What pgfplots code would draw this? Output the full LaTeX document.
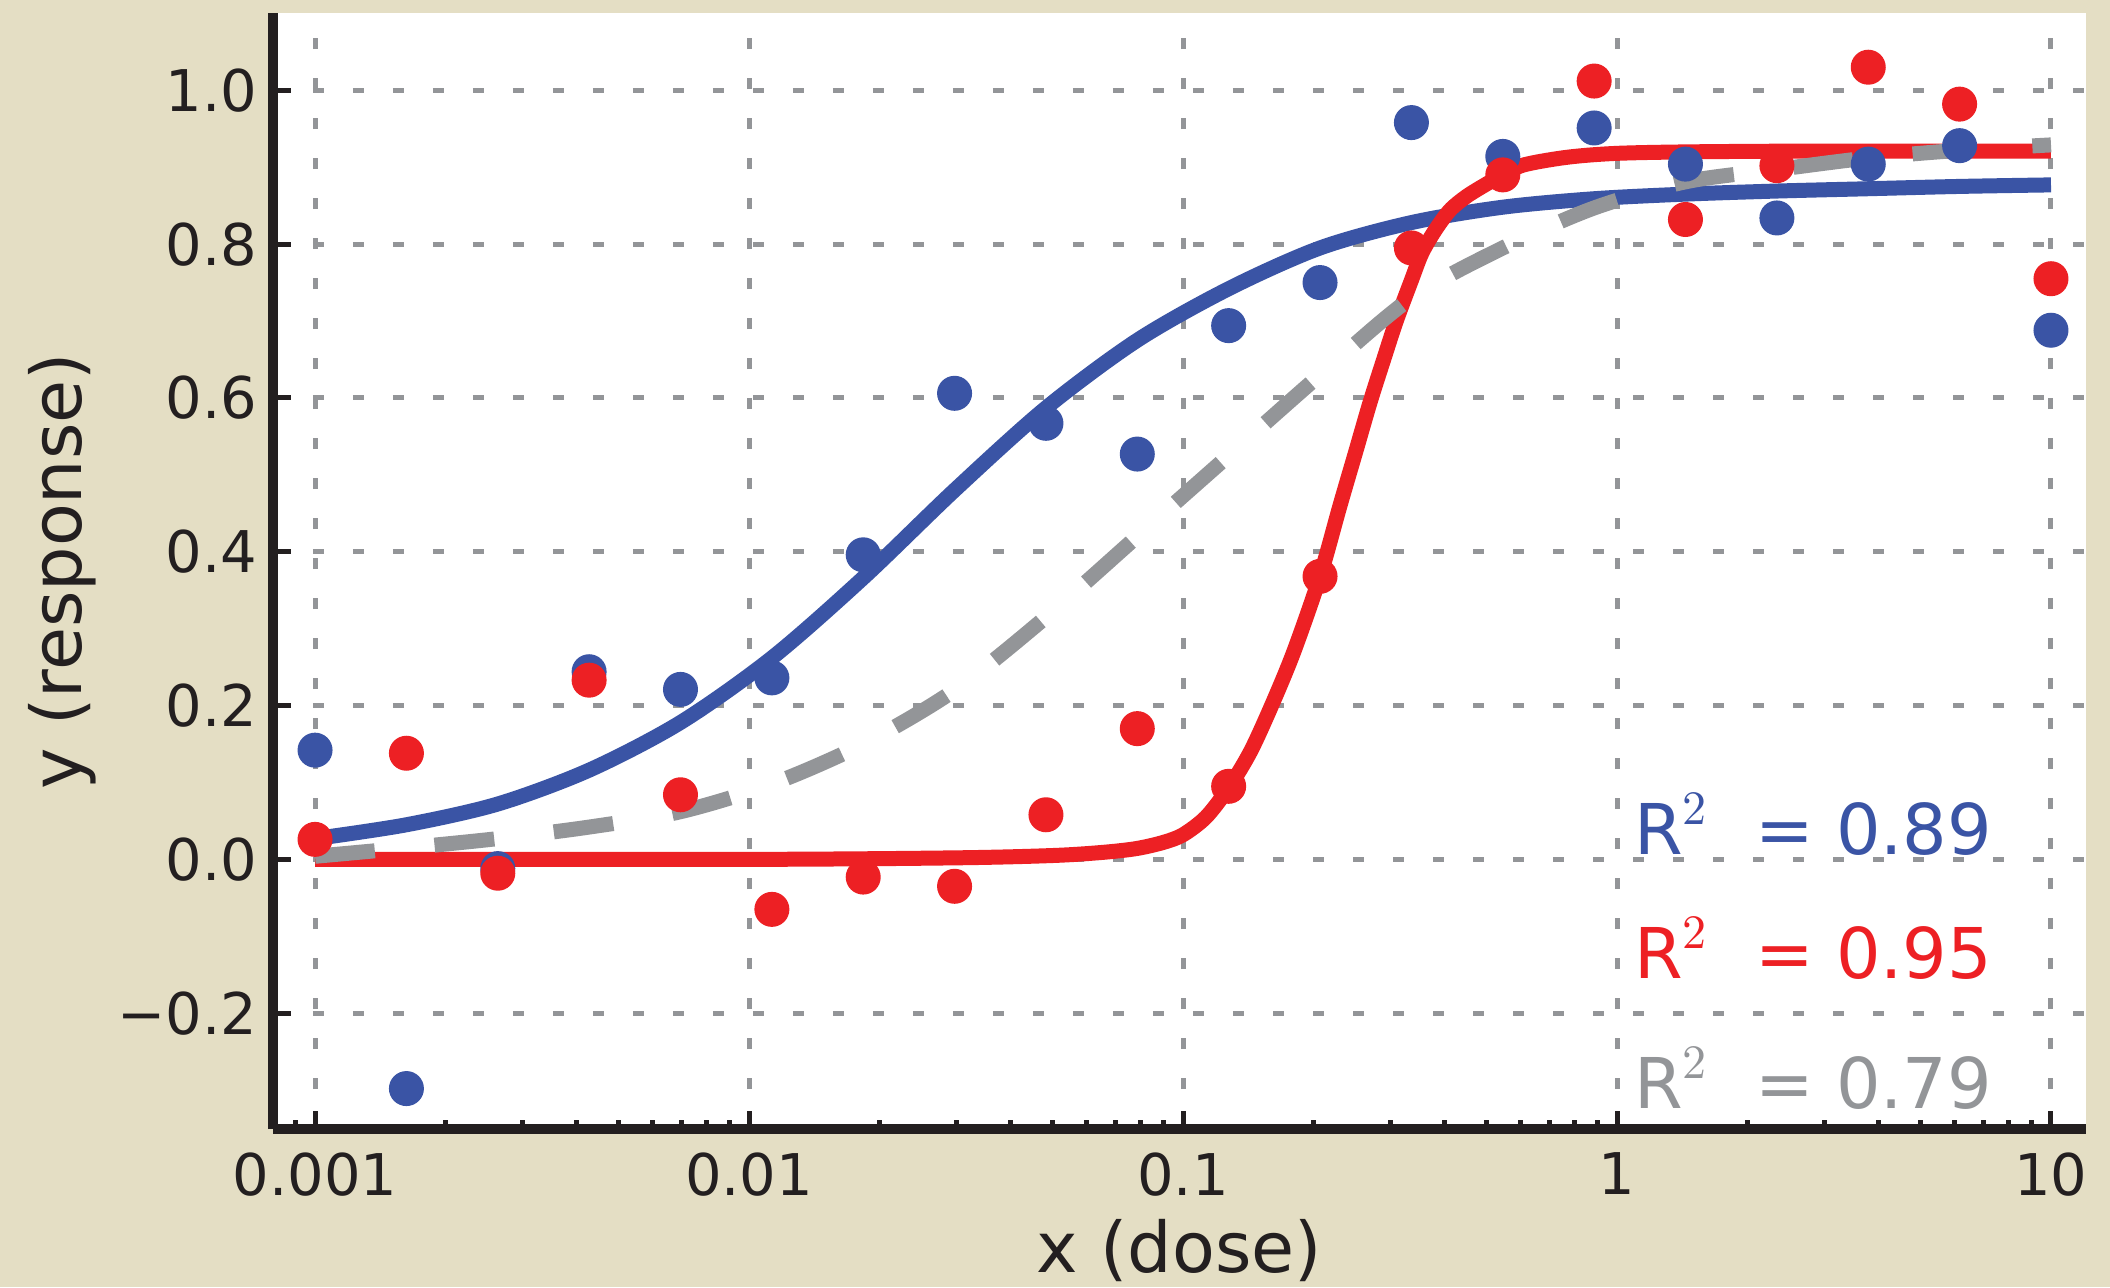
\documentclass[border=0pt]{standalone}
\usepackage{fontspec}
\setmainfont{DejaVu Sans}
\usepackage{pgfplots}
\pgfplotsset{compat=1.18}

\definecolor{bgbeige}{RGB}{228,222,196}
\definecolor{fitblue}{RGB}{58,84,165}
\definecolor{fitred}{RGB}{237,32,36}
\definecolor{fitgray}{RGB}{147,149,152}
\definecolor{inkblack}{RGB}{35,31,32}

% measured points (x = dose, y = response)
\pgfplotstableread{
x        blue    red
0.001     0.142   0.026
0.001624 -0.298   0.138
0.002637 -0.012  -0.018
0.004281  0.244   0.233
0.006952  0.221   0.084
0.01129   0.236  -0.065
0.01833   0.396  -0.023
0.02976   0.606  -0.035
0.04833   0.567   0.058
0.07848   0.527   0.170
0.1274    0.694   0.095
0.2069    0.750   0.368
0.3360    0.958   0.795
0.5456    0.914   0.890
0.8859    0.951   1.012
1.438     0.904   0.832
2.336     0.834   0.902
3.793     0.904   1.030
6.158     0.928   0.982
10        0.688   0.755
}\dots

% fitted curves
\pgfplotstableread{
x        blue    gray
0.001     0.027   0.004
0.001624  0.045   0.015
0.002637  0.072   0.027
0.004281  0.116   0.042
0.006952  0.178   0.062
0.01129   0.262   0.098
0.01833   0.366   0.150
0.02976   0.480   0.220
0.04833   0.587   0.315
0.07848   0.675   0.420
0.1274    0.742   0.525
0.2069    0.795   0.630
0.3360    0.828   0.730
0.5456    0.848   0.795
0.8859    0.859   0.847
1.438     0.865   0.881
2.336     0.869   0.897
3.793     0.872   0.912
6.158     0.875   0.922
10        0.877   0.929
}\fits

\pgfplotstableread{
x       red
0.001   0.000
0.01    0.000
0.03    0.002
0.05    0.005
0.065   0.009
0.078   0.014
0.09    0.022
0.1     0.032
0.113   0.055
0.1274  0.093
0.143   0.140
0.16    0.200
0.18    0.270
0.2069  0.368
0.23    0.460
0.25    0.530
0.27    0.595
0.29    0.650
0.31    0.700
0.336   0.753
0.355   0.788
0.38    0.817
0.412   0.844
0.45    0.862
0.5     0.878
0.546   0.890
0.61    0.903
0.77    0.913
1.0     0.918
1.5     0.920
3       0.921
10      0.921
}\redfit

\begin{document}
\begin{tikzpicture}
\useasboundingbox (-54.6pt,-31.6pt) rectangle (367.4pt,225.8pt);
\fill[bgbeige] (-54.6pt,-31.6pt) rectangle (367.4pt,225.8pt);
\clip (-54.6pt,-31.6pt) rectangle (367.4pt,225.8pt);
\begin{axis}[
    at={(0pt,0pt)}, anchor=south west,
    width=362.6pt, height=223.2pt, scale only axis,
    xmode=log,
    xmin=0.0008, xmax=12.04,
    ymin=-0.3506, ymax=1.1005,
    axis x line*=bottom, axis y line*=left,
    axis line style={line width=2pt, inkblack, -},
    axis background/.style={fill=white},
    xtick={0.001,0.01,0.1,1,10},
    xticklabels={0.001,0.01,0.1,1,10},
    minor xtick={0.0009,0.002,0.003,0.004,0.005,0.006,0.007,0.008,0.009,
                 0.02,0.03,0.04,0.05,0.06,0.07,0.08,0.09,
                 0.2,0.3,0.4,0.5,0.6,0.7,0.8,0.9,
                 2,3,4,5,6,7,8,9},
    ytick={-0.2,0,0.2,0.4,0.6,0.8,1.0},
    yticklabels={−0.2,0.0,0.2,0.4,0.6,0.8,1.0},
    tick align=inside,
    major tick length=3.7pt, minor tick length=1.9pt,
    every tick/.style={inkblack, line width=1pt},
    grid=major,
    major grid style={fitgray, line width=1pt, dash pattern=on 2.2pt off 5.8pt},
    tick label style={font=\fontsize{11.5}{13}\selectfont, color=inkblack},
    xticklabel style={inner sep=0pt, yshift=-4.5pt},
    yticklabel style={inner sep=0pt, xshift=-3pt},
    label style={font=\fontsize{14}{16}\selectfont, color=inkblack},
    xlabel={x (dose)},
    ylabel={y (response)},
    xlabel style={at={([yshift=-28.6pt]axis description cs:0.5,0)}, anchor=base},
    ylabel style={at={([xshift=-38.2pt]axis description cs:0,0.5)}, anchor=base, rotate=0},
]
\addplot[fitblue, line width=3pt, smooth] table[x=x, y=blue] {\fits};
\addplot[fitred, line width=3pt, smooth] table[x=x, y=red] {\redfit};
\addplot[fitgray, line width=3pt, smooth, dash pattern=on 12pt off 12pt] table[x=x, y=gray] {\fits};

\addplot[only marks, mark=*, mark size=3.3pt, fitblue, mark options={fill=fitblue, draw=fitblue}] table[x=x, y=blue] {\dots};
\addplot[only marks, mark=*, mark size=3.3pt, fitred, mark options={fill=fitred, draw=fitred}] table[x=x, y=red] {\dots};

\node[anchor=base west, inner sep=0pt, text=fitblue, font=\fontsize{14}{16}\selectfont]
  at (axis cs:1.089,0.006) {R\raisebox{6pt}{\fontsize{9.6}{10}\fontfamily{lmr}\selectfont 2}};
\node[anchor=base east, inner sep=0pt, text=fitblue, font=\fontsize{14}{16}\selectfont]
  at (axis cs:7.35,0.006) {= 0.89};
\node[anchor=base west, inner sep=0pt, text=fitred, font=\fontsize{14}{16}\selectfont]
  at (axis cs:1.089,-0.155) {R\raisebox{6pt}{\fontsize{9.6}{10}\fontfamily{lmr}\selectfont 2}};
\node[anchor=base east, inner sep=0pt, text=fitred, font=\fontsize{14}{16}\selectfont]
  at (axis cs:7.35,-0.155) {= 0.95};
\node[anchor=base west, inner sep=0pt, text=fitgray, font=\fontsize{14}{16}\selectfont]
  at (axis cs:1.089,-0.324) {R\raisebox{6pt}{\fontsize{9.6}{10}\fontfamily{lmr}\selectfont 2}};
\node[anchor=base east, inner sep=0pt, text=fitgray, font=\fontsize{14}{16}\selectfont]
  at (axis cs:7.35,-0.324) {= 0.79};
\end{axis}
\end{tikzpicture}
\end{document}
